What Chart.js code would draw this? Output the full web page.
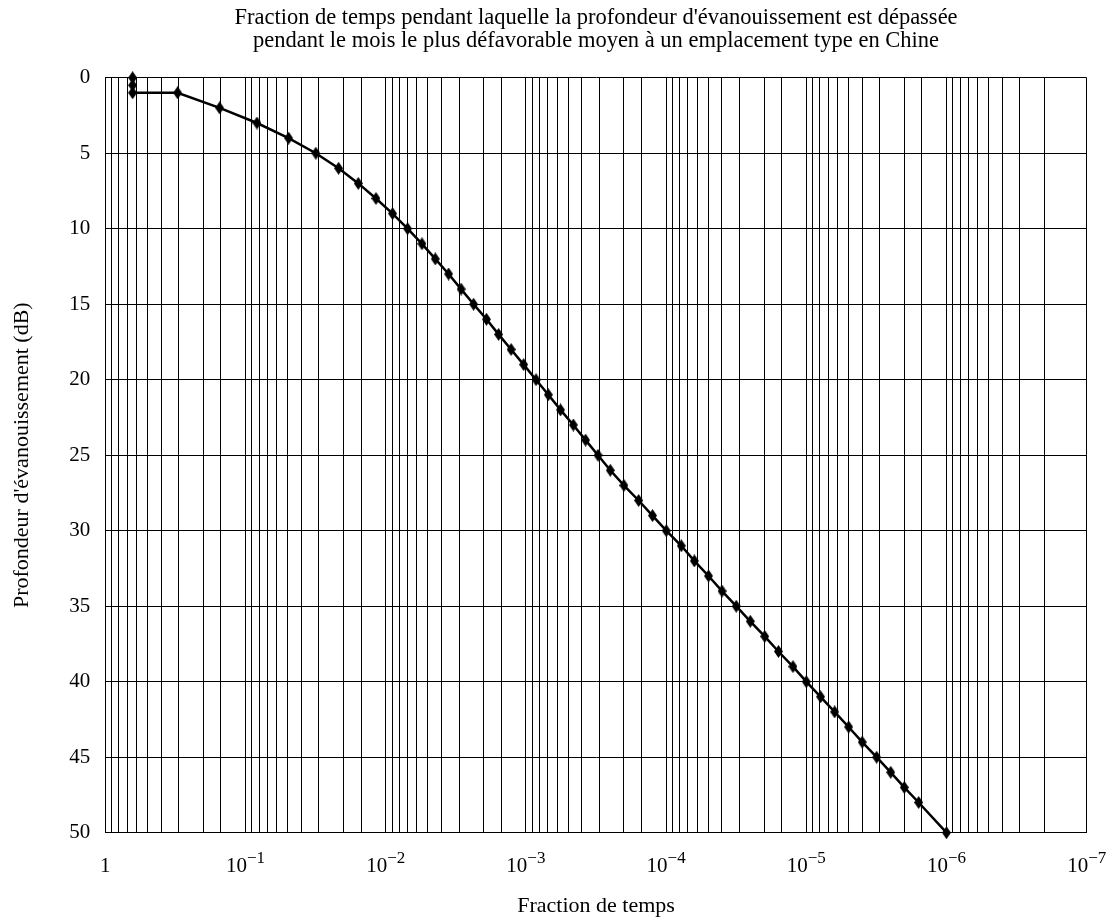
<!DOCTYPE html>
<html>
<head>
<meta charset="utf-8">
<script src="https://cdn.jsdelivr.net/npm/chart.js@4.4.0/dist/chart.umd.min.js"></script>
<style>
  html, body { margin: 0; padding: 0; background: #fff; }
  #wrap { width: 1113px; height: 920px; }
</style>
</head>
<body>
<div id="wrap"><canvas id="chart-fading"></canvas></div>
<script>
const titleLines = [
  "Fraction de temps pendant laquelle la profondeur d'évanouissement est dépassée",
  "pendant le mois le plus défavorable moyen à un emplacement type en Chine"
];
const xAxisTitle = 'Fraction de temps';
const yAxisTitle = "Profondeur d'évanouissement (dB)";

// fraction of time (x) vs fade depth in dB (y)
const fractionTime = [
  0.639, 0.639, 0.639, 0.305, 0.153, 0.0828, 0.0493, 0.0315, 0.02167, 0.01568,
  0.01173, 0.00893, 0.00698, 0.00551, 0.00443, 0.00356, 0.00290, 0.00236, 0.00191, 0.001566,
  0.001275, 0.001038, 0.000847, 0.000692, 0.000566, 0.000459, 0.000375, 0.000306, 0.000250, 0.000200,
  0.000157, 0.000125, 0.0000997, 0.0000779, 0.0000629, 0.0000498, 0.0000399, 0.0000316, 0.0000251, 0.0000198,
  0.0000158, 0.00001245, 0.00001, 0.00000791, 0.00000628, 0.00000499, 0.00000399, 0.00000315, 0.0000025, 0.000002,
  0.00000158, 0.000001
];
const depthDb = [
  0, 0.5, 1, 1, 2, 3, 4, 5, 6, 7,
  8, 9, 10, 11, 12, 13, 14, 15, 16, 17,
  18, 19, 20, 21, 22, 23, 24, 25, 26, 27,
  28, 29, 30, 31, 32, 33, 34, 35, 36, 37,
  38, 39, 40, 41, 42, 43, 44, 45, 46, 47,
  48, 50
];

const xTickValues = [1, 1e-1, 1e-2, 1e-3, 1e-4, 1e-5, 1e-6, 1e-7];
const xTickBase = ['1', '10', '10', '10', '10', '10', '10', '10'];
const xTickSup = ['', '\u22121', '\u22122', '\u22123', '\u22124', '\u22125', '\u22126', '\u22127'];
const yTickStep = 5;

const FONT = '"Liberation Serif", "Times New Roman", serif';

// tall diamond marker
function diamond(w, h) {
  const c = document.createElement('canvas');
  c.width = w; c.height = h;
  const g = c.getContext('2d');
  g.fillStyle = '#000';
  g.beginPath();
  g.moveTo(w / 2, 0);
  g.lineTo(w, h / 2);
  g.lineTo(w / 2, h);
  g.lineTo(0, h / 2);
  g.closePath();
  g.fill();
  return c;
}

const titlePlugin = {
  id: 'twoLineTitle',
  afterDraw(chart) {
    const ctx = chart.ctx, a = chart.chartArea;
    const cx = (a.left + a.right) / 2;
    ctx.save();
    ctx.fillStyle = '#000';
    ctx.font = '22.5px ' + FONT;
    ctx.textAlign = 'center';
    ctx.textBaseline = 'middle';
    ctx.fillText(titleLines[0], cx, 18);
    ctx.fillText(titleLines[1], cx, 41);
    ctx.restore();
  }
};

const xTickPlugin = {
  id: 'xTickLabels',
  afterDraw(chart) {
    const ctx = chart.ctx, xs = chart.scales.x;
    const base = chart.chartArea.bottom + 39;
    ctx.save();
    ctx.fillStyle = '#000';
    ctx.textBaseline = 'alphabetic';
    ctx.textAlign = 'left';
    for (let i = 0; i < xTickValues.length; i++) {
      const px = xs.getPixelForValue(xTickValues[i]);
      ctx.font = '21px ' + FONT;
      const wb = ctx.measureText(xTickBase[i]).width;
      ctx.font = '17px ' + FONT;
      const ws = xTickSup[i] ? ctx.measureText(xTickSup[i]).width : 0;
      const left = px - (wb + ws) / 2;
      ctx.font = '21px ' + FONT;
      ctx.fillText(xTickBase[i], left, base);
      if (xTickSup[i]) {
        ctx.font = '17px ' + FONT;
        ctx.fillText(xTickSup[i], left + wb, base - 9);
      }
    }
    ctx.restore();
  }
};

let ctx = document.getElementById('chart-fading');
let chart = new Chart(ctx, {
  type: 'line',
  data: {
    datasets: [{
      data: fractionTime.map((f, i) => ({ x: f, y: depthDb[i] })),
      borderColor: '#000',
      borderWidth: 2.5,
      backgroundColor: '#000',
      pointStyle: diamond(9, 13),
      pointRadius: 5,
      tension: 0,
      clip: false
    }]
  },
  options: {
    responsive: true,
    maintainAspectRatio: false,
    animation: false,
    events: [],
    layout: { padding: { top: 77.7, right: 26.3, left: 0, bottom: 0 } },
    plugins: { legend: { display: false }, tooltip: { enabled: false } },
    scales: {
      x: {
        type: 'logarithmic',
        min: 1e-7,
        max: 1,
        reverse: true,
        grid: { color: '#000', lineWidth: 1, drawTicks: false },
        border: { color: '#000', width: 1 },
        ticks: { display: false, autoSkip: false },
        title: {
          display: true,
          text: xAxisTitle,
          color: '#000',
          font: { family: FONT, size: 22 },
          padding: { top: 0, bottom: 1 }
        },
        afterFit(scale) { scale.height = 87.3; }
      },
      y: {
        type: 'linear',
        min: 0,
        max: 50,
        reverse: true,
        grid: { color: '#000', lineWidth: 1, drawTicks: false },
        border: { color: '#000', width: 1 },
        ticks: {
          stepSize: yTickStep,
          color: '#000',
          padding: 15,
          font: { family: FONT, size: 21 }
        },
        title: {
          display: true,
          text: yAxisTitle,
          color: '#000',
          font: { family: FONT, size: 22 },
          padding: { top: 9, bottom: 0 }
        },
        afterFit(scale) { scale.width = 105.3; }
      }
    }
  },
  plugins: [titlePlugin, xTickPlugin]
});
</script>
</body>
</html>
